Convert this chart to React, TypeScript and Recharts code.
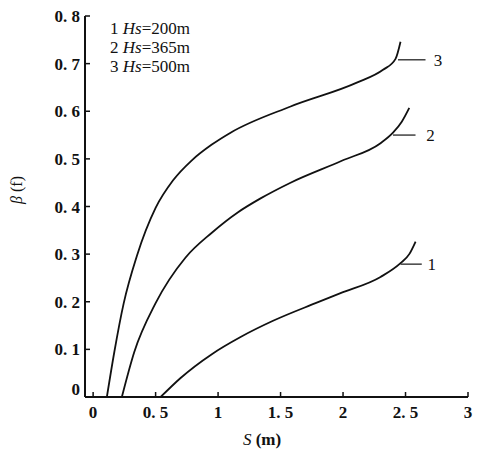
import React from 'react'
import { LineChart, Line, XAxis, YAxis, ReferenceLine, ReferenceDot } from 'recharts'

// S (m) と β(f) の読み取り値
const s1 = [0.54, 0.7, 0.95, 1.18, 1.44, 1.78, 1.98, 2.3, 2.46, 2.53, 2.58]
const b1 = [0, 0.04, 0.09, 0.126, 0.16, 0.197, 0.218, 0.252, 0.281, 0.3, 0.326]

const s2 = [0.23, 0.33, 0.5, 0.74, 0.95, 1.16, 1.34, 1.58, 1.99, 2.3, 2.4, 2.47, 2.53]
const b2 = [0, 0.095, 0.197, 0.293, 0.345, 0.388, 0.417, 0.45, 0.496, 0.533, 0.555, 0.578, 0.607]

const s3 = [0.11, 0.17, 0.245, 0.35, 0.5, 0.64, 0.79, 0.95, 1.1, 1.58, 2.11, 2.32, 2.42, 2.46]
const b3 = [0, 0.095, 0.197, 0.296, 0.397, 0.455, 0.497, 0.53, 0.555, 0.61, 0.66, 0.687, 0.71, 0.746]

const xTicks = [0, 0.5, 1, 1.5, 2, 2.5, 3]
const yTicks = [0, 0.1, 0.2, 0.3, 0.4, 0.5, 0.6, 0.7, 0.8]
const legendLines = ['1', '2', '3']
const legendHs = ['200m', '365m', '500m']

// 曲線番号の引出線: [label, s開始, s終了, β, ラベルs]
const leaders: [string, number, number, number, number][] = [
  ['3', 2.44, 2.66, 0.708, 2.76],
  ['2', 2.4, 2.58, 0.55, 2.7],
  ['1', 2.46, 2.63, 0.279, 2.71],
]

const toRows = (s: number[], b: number[]) => s.map((v, i) => ({ s: v, b: b[i] }))

const FONT = '"Liberation Serif", "DejaVu Serif", serif'

const fmt = (v: number) => (v === 0 ? '0' : String(v).replace('.', '. '))

function YTick(props: any) {
  const { x, y, payload } = props
  return (
    <g>
      <line x1={x} x2={x + 5} y1={y} y2={y} stroke="#111" strokeWidth={1.5} />
      <text x={x - 5} y={y} dy={payload.value === 0 ? -2 : 6} textAnchor="end"
        fontFamily={FONT} fontSize={17} fontWeight="bold" fill="#111">
        {fmt(payload.value)}
      </text>
    </g>
  )
}

function XTick(props: any) {
  const { x, y, payload } = props
  return (
    <g>
      <line x1={x} x2={x} y1={y} y2={y - 5} stroke="#111" strokeWidth={1.5} />
      <text x={x} y={y + 21} textAnchor="middle"
        fontFamily={FONT} fontSize={17} fontWeight="bold" fill="#111">
        {fmt(payload.value)}
      </text>
    </g>
  )
}

export default function App() {
  const series = [toRows(s1, b1), toRows(s2, b2), toRows(s3, b3)]
  return (
    <div style={{ position: 'absolute', left: 0, top: 0, width: 480, height: 457, background: '#fff' }}>
      <LineChart width={480} height={457} margin={{ top: 16, right: 12, left: 0, bottom: 0 }}>
        <XAxis type="number" dataKey="s" domain={[-0.065, 3]} ticks={xTicks} allowDataOverflow
          height={60} tickLine={false} tickSize={0} tickMargin={0} tick={<XTick />}
          axisLine={{ stroke: '#111', strokeWidth: 2 }} />
        <YAxis type="number" dataKey="b" domain={[0, 0.8]} ticks={yTicks} allowDataOverflow
          width={85} tickLine={false} tickSize={0} tickMargin={0} tick={<YTick />}
          axisLine={{ stroke: '#111', strokeWidth: 2 }} />
        {series.map((d, i) => (
          <Line key={i} data={d} dataKey="b" type="monotone" stroke="#111" strokeWidth={1.8}
            dot={false} isAnimationActive={false} />
        ))}
        {leaders.map(([lab, x1, x2, y]) => (
          <ReferenceLine key={'l' + lab} segment={[{ x: x1, y }, { x: x2, y }]} stroke="#111" strokeWidth={1.2} />
        ))}
        {leaders.map(([lab, , , y, lx]) => (
          <ReferenceDot key={'d' + lab} x={lx} y={y} r={0} stroke="none"
            label={{ value: lab, position: 'center', fontFamily: FONT, fontSize: 17, fill: '#111' }} />
        ))}
      </LineChart>
      <div style={{ position: 'absolute', left: 110, top: 19, fontFamily: FONT, fontSize: 17, lineHeight: '19px', color: '#111' }}>
        {legendLines.map((n, i) => (
          <div key={n}>{n} <i>Hs</i>={legendHs[i]}</div>
        ))}
      </div>
      <div style={{ position: 'absolute', left: 17, top: 190, transform: 'translate(-50%, -50%) rotate(-90deg)',
        fontFamily: FONT, fontSize: 16, whiteSpace: 'nowrap', color: '#111' }}>
        <i>β</i> (f)
      </div>
      <div style={{ position: 'absolute', left: 262, top: 440, transform: 'translate(-50%, -50%)',
        fontFamily: FONT, fontSize: 17, whiteSpace: 'nowrap', color: '#111' }}>
        <i>S</i> <b>(m)</b>
      </div>
    </div>
  )
}
